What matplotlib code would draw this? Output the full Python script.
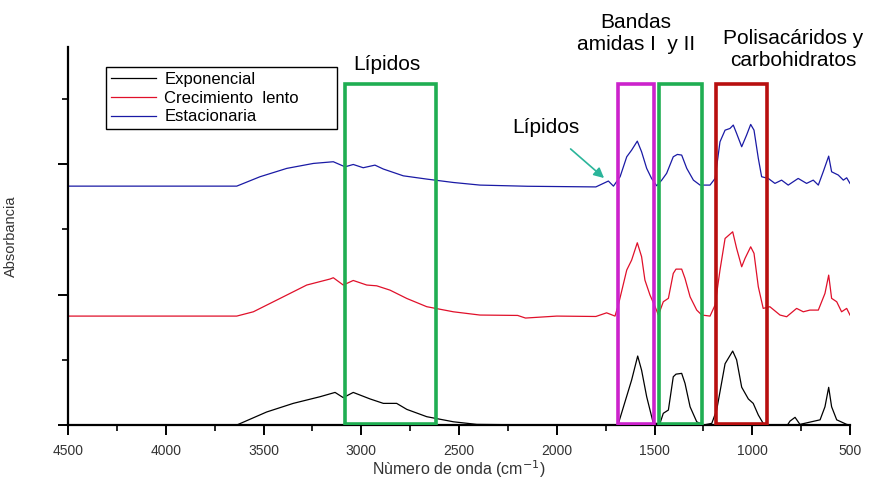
import matplotlib.pyplot as plt
from matplotlib.patches import Rectangle

# wavenumber (cm-1) / absorbance (offset, arbitrary units)
exp_wn = [4500, 3637, 3484, 3348, 3211, 3134, 3092, 3041, 2955, 2887, 2819, 2767, 2665, 2529, 2409, 2200,
          1700, 1685, 1617, 1586, 1566, 1540, 1506, 1472, 1455, 1429, 1404, 1390, 1361, 1344, 1318, 1284,
          1250, 1207, 1182, 1139, 1100, 1080, 1054, 1020, 995, 969, 944, 918, 820, 807, 781, 756, 653, 628,
          609, 594, 568, 517, 500]
exp_abs = [0, 0, 0.10, 0.166, 0.217, 0.25, 0.21, 0.25, 0.20, 0.166, 0.166, 0.12, 0.064, 0.025, 0.005, 0.002,
           0, 0.01, 0.345, 0.529, 0.42, 0.217, 0.013, 0.013, 0.09, 0.115, 0.37, 0.39, 0.396, 0.32, 0.14, 0.025,
           0, 0.013, 0.115, 0.47, 0.567, 0.5, 0.29, 0.2, 0.166, 0.077, 0.013, 0, 0, 0.03, 0.059, 0.005, 0.04,
           0.14, 0.289, 0.14, 0.04, 0.005, 0]

lento_wn = [4500, 3637, 3552, 3416, 3279, 3160, 3143, 3092, 3041, 2972, 2921, 2853, 2767, 2665, 2529, 2393,
            2200, 2160, 2000, 1800, 1745, 1702, 1685, 1642, 1617, 1588, 1566, 1549, 1523, 1497, 1480, 1455,
            1429, 1404, 1390, 1361, 1344, 1318, 1284, 1258, 1216, 1190, 1165, 1139, 1100, 1080, 1054, 1037,
            1008, 991, 969, 944, 910, 858, 824, 773, 739, 705, 662, 628, 609, 594, 568, 543, 517, 500]
lento_abs = [0.835, 0.835, 0.868, 0.97, 1.073, 1.119, 1.129, 1.073, 1.108, 1.073, 1.067, 1.034, 0.97, 0.907,
             0.868, 0.843, 0.84, 0.82, 0.835, 0.832, 0.86, 0.835, 0.92, 1.188, 1.264, 1.397, 1.29, 1.111, 0.996,
             0.907, 0.843, 0.945, 0.971, 1.162, 1.195, 1.195, 1.124, 0.983, 0.881, 0.843, 0.835, 0.92, 1.188,
             1.43, 1.481, 1.354, 1.213, 1.277, 1.366, 1.316, 1.06, 0.894, 0.907, 0.843, 0.83, 0.894, 0.868,
             0.881, 0.881, 1.009, 1.149, 0.971, 0.945, 0.868, 0.894, 0.843]

est_wn = [4500, 3637, 3518, 3381, 3245, 3143, 3083, 3041, 2990, 2930, 2887, 2785, 2665, 2529, 2393, 2150,
          1800, 1736, 1710, 1676, 1642, 1617, 1588, 1566, 1540, 1515, 1489, 1463, 1438, 1404, 1383, 1361,
          1335, 1301, 1267, 1216, 1190, 1165, 1139, 1114, 1097, 1080, 1054, 1029, 1008, 991, 969, 952, 918,
          884, 850, 816, 765, 722, 688, 662, 637, 609, 594, 560, 534, 517, 500]
est_abs = [1.831, 1.831, 1.903, 1.967, 2.005, 2.018, 1.979, 1.997, 1.972, 1.992, 1.962, 1.91, 1.885, 1.859,
           1.839, 1.83, 1.825, 1.87, 1.831, 1.903, 2.056, 2.107, 2.176, 2.094, 1.967, 1.89, 1.834, 1.877, 1.929,
           2.056, 2.074, 2.069, 1.967, 1.877, 1.839, 1.839, 1.89, 2.171, 2.26, 2.273, 2.299, 2.235, 2.133,
           2.222, 2.304, 2.26, 2.044, 1.903, 1.89, 1.852, 1.877, 1.839, 1.89, 1.852, 1.877, 1.839, 1.941,
           2.061, 1.941, 1.916, 1.877, 1.895, 1.852]

labels = ['Exponencial', 'Crecimiento  lento', 'Estacionaria']

# highlighted bands: (high wn, low wn, colour)
bands = [(3083, 2618, '#1fae52'), (1688, 1501, '#cc22cc'), (1477, 1259, '#1fae52'), (1185, 926, '#b80f0f')]
band_top = 2.61

plt.rcParams['font.family'] = ['Liberation Sans', 'DejaVu Sans']

fig = plt.figure(figsize=(8.8, 4.83), dpi=100)
ax = fig.add_axes([0.0773, 0.12, 0.8886, 0.7826])

ax.plot(exp_wn, exp_abs, color='black', lw=0.9, label=labels[0])
ax.plot(lento_wn, lento_abs, color='#e0102a', lw=0.9, label=labels[1])
ax.plot(est_wn, est_abs, color='#1a1aa5', lw=0.9, label=labels[2])

for hi, lo, c in bands:
    ax.add_patch(Rectangle((lo, 0.01), hi - lo, band_top - 0.01, fill=False, edgecolor=c, lw=2.6, zorder=3))

ax.set_xlim(4500, 500)
ax.set_ylim(0, 2.897)

for s in ['top', 'right']:
    ax.spines[s].set_visible(False)
for s in ['left', 'bottom']:
    ax.spines[s].set_linewidth(1.6)

ax.set_xticks([4500, 4000, 3500, 3000, 2500, 2000, 1500, 1000, 500])
ax.set_xticks([4250, 3750, 3250, 2750, 2250, 1750, 1250, 750], minor=True)
ax.set_yticks([0, 1, 2])
ax.set_yticks([0.5, 1.5, 2.5], minor=True)
ax.set_yticklabels([])
ax.tick_params(which='major', length=7, width=1.4, labelsize=10, labelcolor='#333333', pad=7)
ax.tick_params(which='minor', length=4, width=1.2)

ax.set_xlabel('Nùmero de onda (cm$^{-1}$)', fontsize=11.5, color='#333333')
ax.xaxis.set_label_coords(0.5, -0.088)
ax.set_ylabel('Absorbancia', fontsize=10.5, color='#333333')
ax.yaxis.set_label_coords(-0.064, 0.5)

leg = ax.legend(loc='upper left', bbox_to_anchor=(0.0486, 0.78, 0.2954, 0.167), mode='expand',
                borderaxespad=0, fontsize=12, fancybox=False, framealpha=1, edgecolor='black',
                handlelength=2.7, handletextpad=0.5, labelspacing=0.22, borderpad=0.3)
leg.get_frame().set_linewidth(1.0)

ax.text(2868, 2.76, 'Lípidos', ha='center', va='center', fontsize=15)
ax.text(1595, 3.0, 'Bandas\namidas I  y II', ha='center', va='center', fontsize=15, clip_on=False,
        linespacing=1.25)
ax.text(792, 2.88, 'Polisacáridos y\ncarbohidratos', ha='center', va='center', fontsize=15, clip_on=False,
        linespacing=1.2)
ax.annotate('Lípidos', xy=(1758, 1.893), xytext=(2055, 2.28), ha='center', va='center', fontsize=15,
            arrowprops=dict(arrowstyle='-|>', color='#2bb59a', lw=1.2, shrinkA=10, shrinkB=0))

fig.savefig('out.png', dpi=100)
